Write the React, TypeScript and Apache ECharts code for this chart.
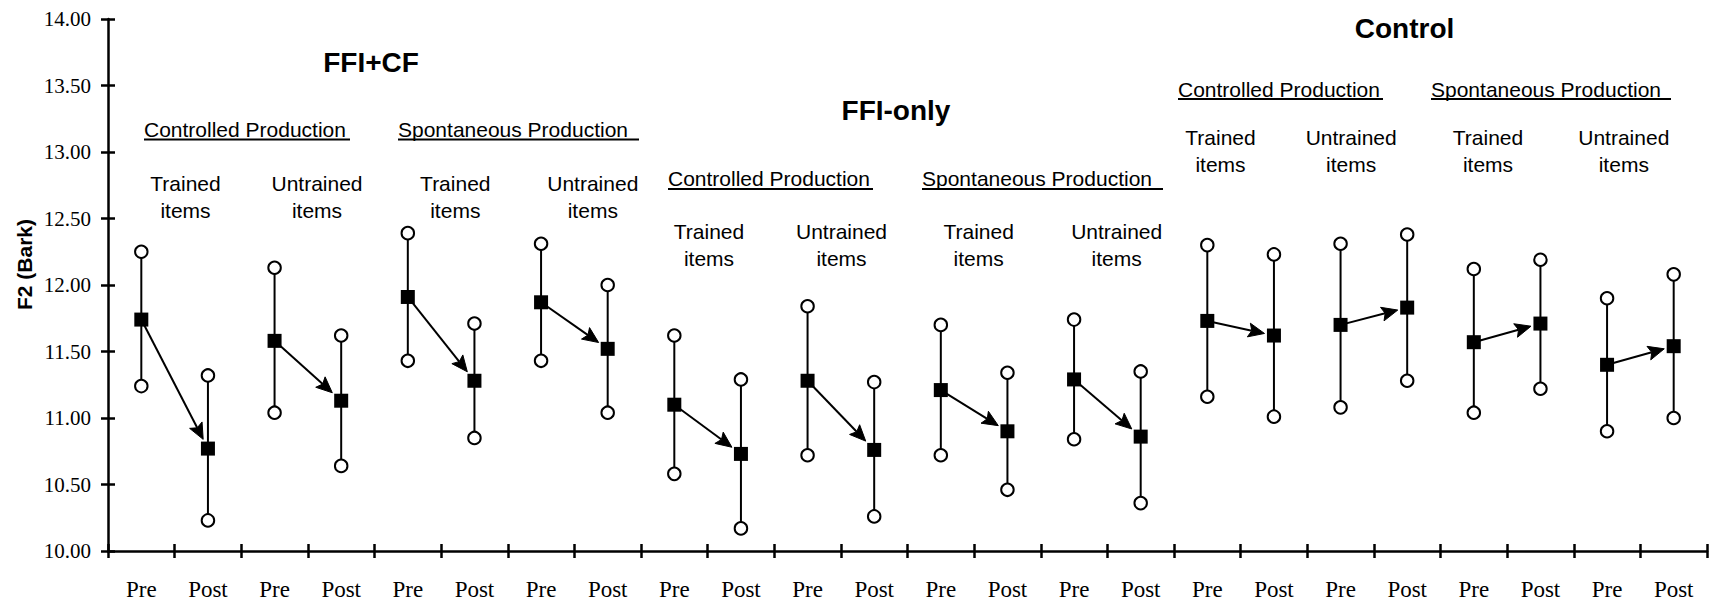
import React, { useEffect, useRef } from "react";
import * as echarts from "echarts";

// Tick labels along the category axis
const categories = [
  "Pre", "Post", "Pre", "Post", "Pre", "Post", "Pre", "Post",
  "Pre", "Post", "Pre", "Post", "Pre", "Post", "Pre", "Post",
  "Pre", "Post", "Pre", "Post", "Pre", "Post", "Pre", "Post",
];

// Mean F2 (filled squares)
const meanValues = [
  11.74, 10.77, 11.58, 11.13, 11.91, 11.28, 11.87, 11.52,
  11.10, 10.73, 11.28, 10.76, 11.21, 10.90, 11.29, 10.86,
  11.73, 11.62, 11.70, 11.83, 11.57, 11.71, 11.40, 11.54,
];

// Upper range ends (open circles)
const upperValues = [
  12.25, 11.32, 12.13, 11.62, 12.39, 11.71, 12.31, 12.00,
  11.62, 11.29, 11.84, 11.27, 11.70, 11.34, 11.74, 11.35,
  12.30, 12.23, 12.31, 12.38, 12.12, 12.19, 11.90, 12.08,
];

// Lower range ends (open circles)
const lowerValues = [
  11.24, 10.23, 11.04, 10.64, 11.43, 10.85, 11.43, 11.04,
  10.58, 10.17, 10.72, 10.26, 10.72, 10.46, 10.84, 10.36,
  11.16, 11.01, 11.08, 11.28, 11.04, 11.22, 10.90, 11.00,
];

const groupTitles = ["FFI+CF", "FFI-only", "Control"];
const taskTitles = ["Controlled Production", "Spontaneous Production "];
const itemTitles = ["Trained\nitems", "Untrained\nitems"];
const yAxisName = "F2 (Bark)";

const SANS = '"Liberation Sans", Arial, sans-serif';
const SERIF = '"Liberation Serif", "Times New Roman", serif';

export default function App() {
  const ref = useRef<HTMLDivElement | null>(null);

  useEffect(() => {
    if (!ref.current) return;
    const chart = echarts.init(ref.current, undefined, { renderer: "svg" });

    const whiskerData = categories.map((_, i) => [i, lowerValues[i], upperValues[i]]);
    const arrowData: number[][] = [];
    for (let i = 0; i < categories.length; i += 2) {
      arrowData.push([i, i + 1, meanValues[i], meanValues[i + 1]]);
    }

    // Annotation layout (pixel positions)
    const groupPos = [
      [371, 62.5],
      [896, 110],
      [1404.5, 28],
    ];
    const taskPos = [
      // [left, capCentreY, underlineY, underlineEnd, titleIndex]
      [144, 129.5, 139.5, 350, 0],
      [398, 129.5, 139.5, 639, 1],
      [668, 178, 189, 873, 0],
      [922, 178, 189, 1163, 1],
      [1178, 89, 99, 1383, 0],
      [1431, 89, 99, 1671, 1],
    ];
    const itemPos = [
      [185.5, 183.5, 0], [317, 183.5, 1], [455.3, 183.5, 0], [592.8, 183.5, 1],
      [709, 231.5, 0], [841.5, 231.5, 1], [978.7, 231.5, 0], [1116.7, 231.5, 1],
      [1220.5, 137.5, 0], [1351.2, 137.5, 1], [1488, 137.5, 0], [1623.8, 137.5, 1],
    ];

    const graphics: any[] = [];
    groupTitles.forEach((t, i) => {
      graphics.push({
        type: "text",
        x: groupPos[i][0],
        y: groupPos[i][1],
        silent: true,
        style: {
          text: t,
          font: `bold 28px ${SANS}`,
          fill: "#000",
          textAlign: "center",
          textVerticalAlign: "middle",
        },
      });
    });
    taskPos.forEach((p) => {
      graphics.push({
        type: "text",
        x: p[0],
        y: p[1],
        silent: true,
        style: {
          text: taskTitles[p[4]],
          font: `21px ${SANS}`,
          fill: "#000",
          textAlign: "left",
          textVerticalAlign: "middle",
        },
      });
      graphics.push({
        type: "line",
        silent: true,
        shape: { x1: p[0], y1: p[2], x2: p[3], y2: p[2] },
        style: { stroke: "#000", lineWidth: 2 },
      });
    });
    itemPos.forEach((p) => {
      graphics.push({
        type: "text",
        x: p[0],
        y: p[1] - 13.5,
        silent: true,
        style: {
          text: itemTitles[p[2]],
          font: `21px ${SANS}`,
          lineHeight: 27,
          fill: "#000",
          textAlign: "center",
          textVerticalAlign: "top",
        },
      });
    });
    graphics.push({
      type: "text",
      x: 24.5,
      y: 264.5,
      rotation: Math.PI / 2,
      silent: true,
      style: {
        text: yAxisName,
        font: `bold 21px ${SANS}`,
        fill: "#000",
        textAlign: "center",
        textVerticalAlign: "middle",
      },
    });

    const axisLineStyle = { color: "#000", width: 2.5 };

    chart.setOption({
      animation: false,
      backgroundColor: "#fff",
      grid: { left: 108, right: 2, top: 19, bottom: 56, containLabel: false },
      xAxis: [
        {
          type: "category",
          data: categories,
          boundaryGap: true,
          position: "bottom",
          axisLine: { lineStyle: axisLineStyle },
          axisTick: { show: true, interval: 0, length: 7, lineStyle: axisLineStyle },
          axisLabel: {
            interval: 0,
            color: "#000",
            fontFamily: SERIF,
            fontSize: 23,
            margin: 27,
          },
          splitLine: { show: false },
        },
        {
          type: "category",
          data: categories,
          boundaryGap: true,
          position: "bottom",
          axisLine: { show: false },
          axisTick: { show: true, inside: true, interval: 0, length: 7, lineStyle: axisLineStyle },
          axisLabel: { show: false },
          splitLine: { show: false },
        },
      ],
      yAxis: [
        {
          type: "value",
          min: 10,
          max: 14,
          interval: 0.5,
          position: "left",
          axisLine: { show: true, lineStyle: axisLineStyle },
          axisTick: { show: true, length: 7, lineStyle: axisLineStyle },
          axisLabel: {
            color: "#000",
            fontFamily: SERIF,
            fontSize: 21,
            margin: 17,
            formatter: (v: number) => v.toFixed(2),
          },
          splitLine: { show: false },
        },
        {
          type: "value",
          min: 10,
          max: 14,
          interval: 0.5,
          position: "left",
          axisLine: { show: false },
          axisTick: { show: true, inside: true, length: 7, lineStyle: axisLineStyle },
          axisLabel: { show: false },
          splitLine: { show: false },
        },
      ],
      graphic: { elements: graphics },
      series: [
        {
          type: "custom",
          name: "range",
          silent: true,
          z: 2,
          data: whiskerData,
          encode: { x: 0, y: [1, 2] },
          renderItem: (params: any, api: any) => {
            const lo = api.coord([api.value(0), api.value(1)]);
            const hi = api.coord([api.value(0), api.value(2)]);
            return {
              type: "line",
              shape: { x1: lo[0], y1: lo[1], x2: hi[0], y2: hi[1] },
              style: { stroke: "#000", lineWidth: 2 },
            };
          },
        },
        {
          type: "custom",
          name: "change",
          silent: true,
          z: 3,
          data: arrowData,
          encode: { x: [0, 1], y: [2, 3] },
          renderItem: (params: any, api: any) => {
            const p1 = api.coord([api.value(0), api.value(2)]);
            const p2 = api.coord([api.value(1), api.value(3)]);
            const dx = p2[0] - p1[0];
            const dy = p2[1] - p1[1];
            const len = Math.hypot(dx, dy) || 1;
            const ux = dx / len;
            const uy = dy / len;
            const half = 7;
            const edge = half / Math.max(Math.abs(ux), Math.abs(uy));
            const tipDist = edge + 2.5;
            const tip = [p2[0] - ux * tipDist, p2[1] - uy * tipDist];
            const headLen = 16;
            const headHalf = 7;
            const base = [tip[0] - ux * headLen, tip[1] - uy * headLen];
            const notch = [base[0] + ux * 3, base[1] + uy * 3];
            const px = -uy;
            const py = ux;
            return {
              type: "group",
              children: [
                {
                  type: "line",
                  shape: { x1: p1[0], y1: p1[1], x2: notch[0], y2: notch[1] },
                  style: { stroke: "#000", lineWidth: 2 },
                },
                {
                  type: "polygon",
                  shape: {
                    points: [
                      tip,
                      [base[0] + px * headHalf, base[1] + py * headHalf],
                      notch,
                      [base[0] - px * headHalf, base[1] - py * headHalf],
                    ],
                  },
                  style: { fill: "#000", stroke: "#000", lineWidth: 1 },
                },
              ],
            };
          },
        },
        {
          type: "scatter",
          name: "upper",
          silent: true,
          z: 4,
          data: upperValues,
          symbol: "circle",
          symbolSize: 12.5,
          itemStyle: { color: "#fff", borderColor: "#000", borderWidth: 2, opacity: 1 },
        },
        {
          type: "scatter",
          name: "lower",
          silent: true,
          z: 4,
          data: lowerValues,
          symbol: "circle",
          symbolSize: 12.5,
          itemStyle: { color: "#fff", borderColor: "#000", borderWidth: 2, opacity: 1 },
        },
        {
          type: "scatter",
          name: "mean",
          silent: true,
          z: 5,
          data: meanValues,
          symbol: "rect",
          symbolSize: 14,
          itemStyle: { color: "#000", opacity: 1 },
        },
      ],
    });

    return () => {
      chart.dispose();
    };
  }, []);

  return (
    <div
      ref={ref}
      style={{ position: "absolute", left: 0, top: 0, width: 1709, height: 607 }}
    />
  );
}
